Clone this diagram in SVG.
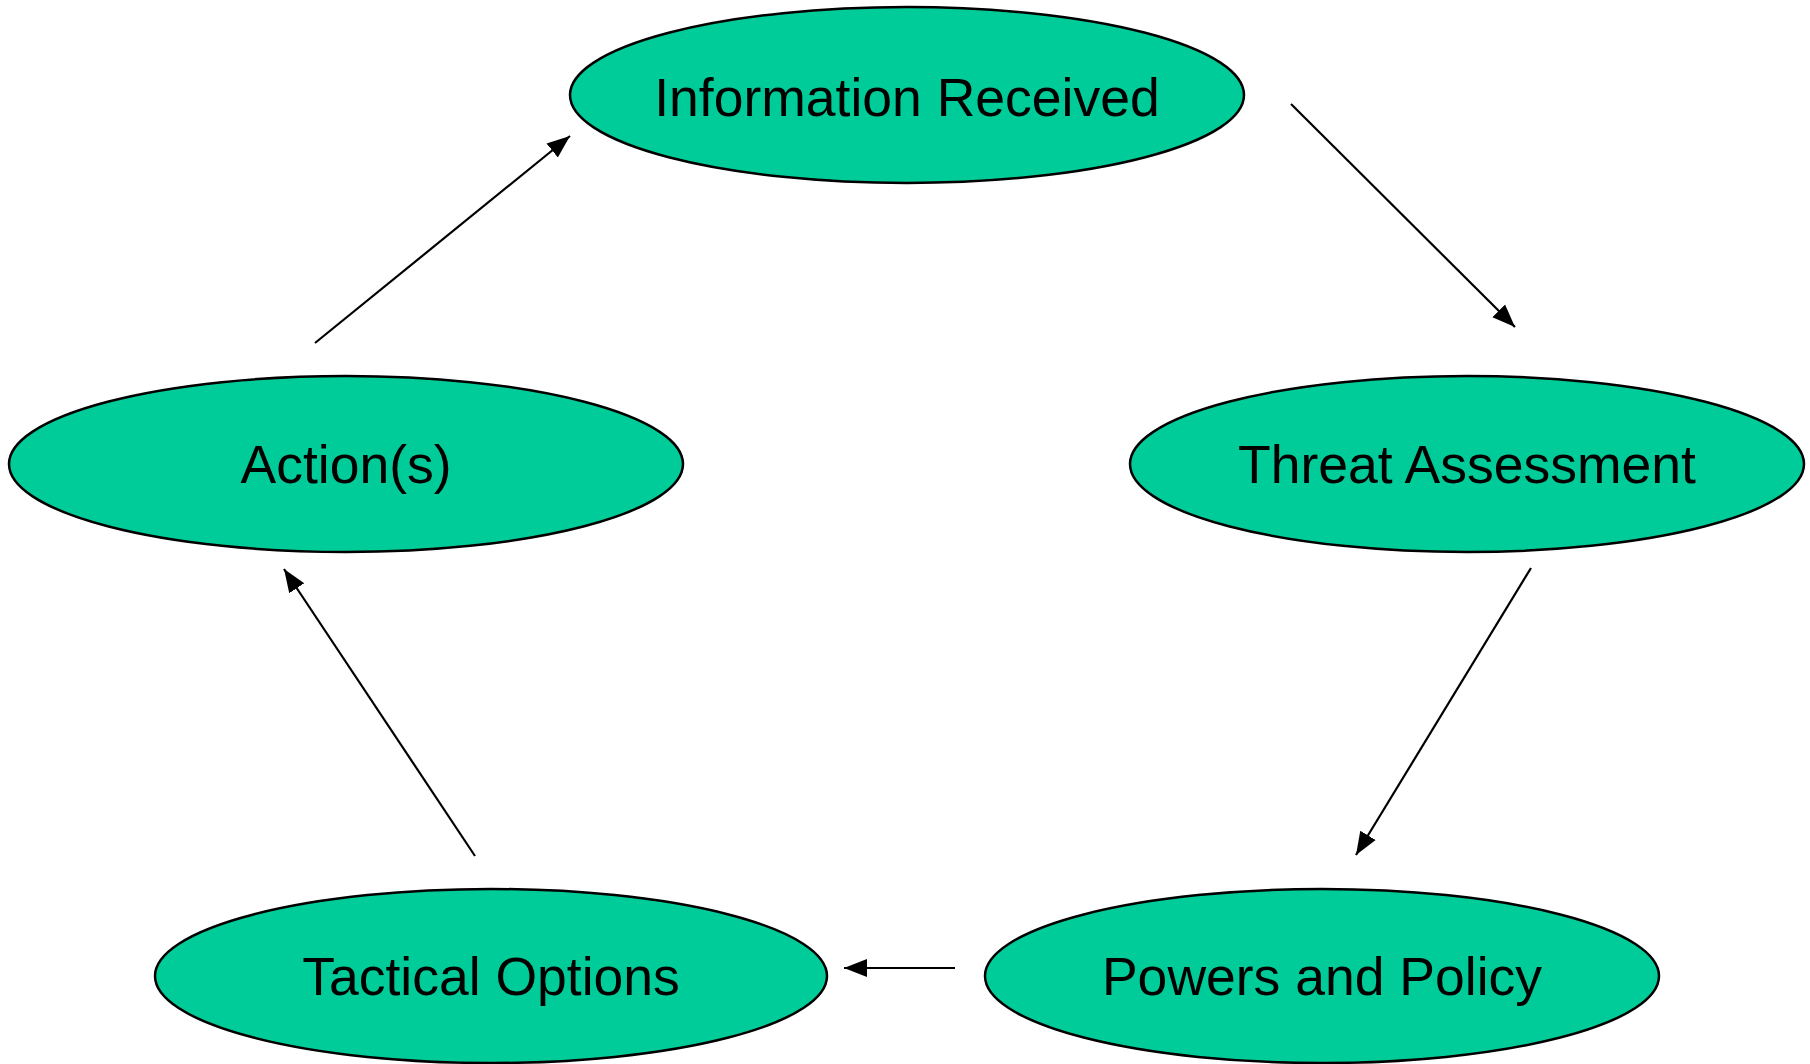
<svg xmlns="http://www.w3.org/2000/svg" width="1810" height="1064" viewBox="0 0 1810 1064">
<style>
.node ellipse{fill:#00CC99;stroke:#000;stroke-width:2.5}
.node text{font-family:"Liberation Sans",Arial,sans-serif;font-size:53.5px;fill:#000;text-anchor:middle}
.edge{stroke:#000;stroke-width:2.2;fill:none;marker-end:url(#arr)}
</style>
<defs>
<marker id="arr" markerUnits="userSpaceOnUse" markerWidth="26" markerHeight="22" viewBox="0 0 26 22" refX="23" refY="11" orient="auto">
<path d="M0,2 L23,11 L0,20 Z" fill="#000"/>
</marker>
</defs>
<rect width="1810" height="1064" fill="#fff"/>
<g id="connectors">
<line class="edge" x1="1291" y1="104" x2="1515" y2="327"/>
<line class="edge" x1="1531" y1="568" x2="1356" y2="855"/>
<line class="edge" x1="955" y1="968" x2="844" y2="968"/>
<line class="edge" x1="475" y1="856" x2="284" y2="569"/>
<line class="edge" x1="315" y1="343" x2="570" y2="136"/>
</g>
<g id="node-information-received" class="node">
<ellipse cx="907" cy="95" rx="337" ry="88"/>
<text x="907" y="116">Information Received</text>
</g>
<g id="node-threat-assessment" class="node">
<ellipse cx="1467" cy="464" rx="337" ry="88"/>
<text x="1467" y="483">Threat Assessment</text>
</g>
<g id="node-powers-and-policy" class="node">
<ellipse cx="1322" cy="976" rx="337" ry="87"/>
<text x="1322" y="995">Powers and Policy</text>
</g>
<g id="node-tactical-options" class="node">
<ellipse cx="491" cy="976" rx="336" ry="87"/>
<text x="491" y="995">Tactical Options</text>
</g>
<g id="node-actions" class="node">
<ellipse cx="346" cy="464" rx="337" ry="88"/>
<text x="346" y="483">Action(s)</text>
</g>
</svg>
